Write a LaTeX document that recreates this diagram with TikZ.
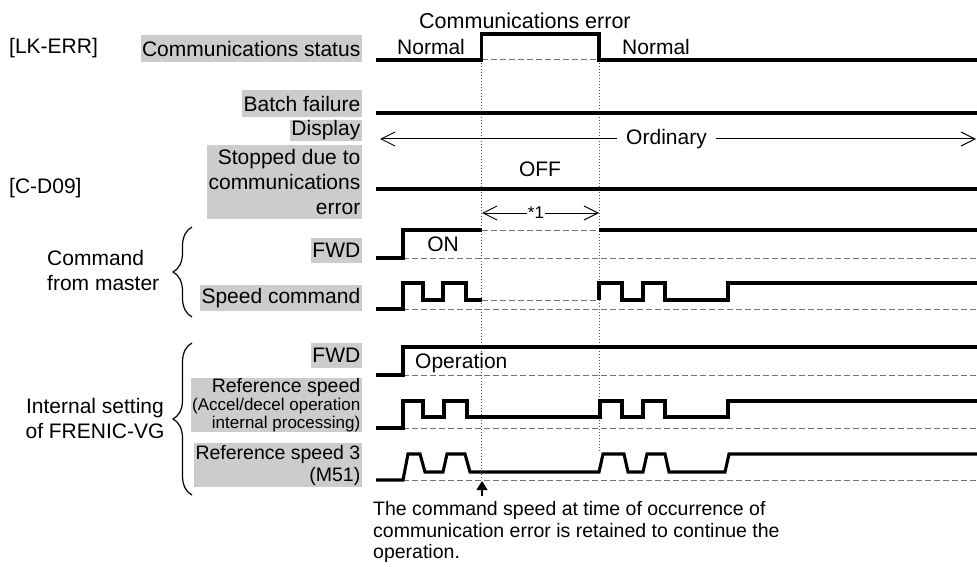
\documentclass[tikz,border=0pt]{standalone}
\usepackage{fontspec}
\setmainfont{Liberation Sans}
\usetikzlibrary{arrows.meta,decorations.pathreplacing}
\begin{document}
\begin{tikzpicture}[x=1pt,y=-1pt,
  sig/.style={line width=3.1pt, line join=miter},
  guide/.style={line width=1pt, black!55, dash pattern=on 6pt off 3pt},
  dotl/.style={line width=1pt, black!70, dash pattern=on 1pt off 2pt},
  lab/.style={fill=gray!40, anchor=east, inner xsep=1.5pt, inner ysep=0pt, align=right, font=\fontsize{21}{25}\selectfont},
  plain/.style={inner sep=0pt, font=\fontsize{21}{25}\selectfont},
  small/.style={inner sep=0pt, font=\fontsize{17}{21.5}\selectfont},
  notefont/.style={inner sep=0pt, font=\fontsize{19.5}{21.8}\selectfont},
  barb/.style={line width=1pt, {Straight Barb[length=14pt,width=14pt]}-{Straight Barb[length=14pt,width=14pt]}},
  brc/.style={line width=1.2pt, decorate, decoration={brace, amplitude=19pt}}]
\useasboundingbox (0,0) rectangle (977,567);

% left annotations
\node[plain, anchor=west] (lkerr) at (9,48) {[LK-ERR]};
\node[plain, anchor=west] (cd09) at (9,188) {[C-D09]};
\node[plain, anchor=west, align=left] (master) at (47,270) {Command\\from master};
\node[plain, align=center] (internal) at (95,418) {Internal setting\\of FRENIC-VG};
\draw[brc] (192,317) -- (192,227);
\draw[brc] (192,495) -- (192,343);

% signal labels
\node[lab, minimum height=27pt] (lcomm) at (362,48.5) {Communications status};
\node[lab, minimum height=27pt] (lbatch) at (362,103.5) {Batch failure};
\node[lab, minimum height=21pt] (ldisp) at (362,130.5) {Display};
\node[lab, minimum height=74pt] (lstop) at (362,182) {Stopped due to\\communications\\error};
\node[lab, minimum height=25pt] (lfwd1) at (362,250.5) {FWD};
\node[lab, minimum height=26pt] (lspd) at (362,298) {Speed command};
\node[lab, minimum height=25pt] (lfwd2) at (362,355.5) {FWD};
\node[lab, minimum height=54pt, font=\fontsize{17}{17.5}\selectfont] (lref) at (362,405)
  {{\fontsize{19.5}{20}\selectfont Reference speed}\\[1pt](Accel/decel operation\\internal processing)};
\node[lab, minimum height=44pt, font=\fontsize{19.5}{22}\selectfont] (lref3) at (362,465) {Reference speed 3\\(M51)};

% timing guides
\draw[dotl] (481.5,60) -- (481.5,480);
\draw[dotl] (599,60) -- (599,452);

% communications status
\node[plain, anchor=west] (title) at (419,21) {\fontsize{21.5}{25}\selectfont Communications error};
\node[plain, anchor=west] (norm1) at (397,47) {Normal};
\node[plain, anchor=west] (norm2) at (622,47) {Normal};
\draw[guide] (481.5,60) -- (599,60);
\draw[sig] (376,60) -- (481.5,60) -- (481.5,34) -- (599,34) -- (599,60) -- (977,60);

% batch failure
\draw[sig] (376,113) -- (977,113);

% display
\coordinate (dl) at (380,139);
\coordinate (dr) at (976,139);
\draw[barb] (dl) -- (dr);
\node[plain, fill=white, inner xsep=9pt, inner ysep=1pt] (ord) at (666.5,139) {Ordinary};

% stopped due to communications error
\node[plain] (off) at (540,169) {OFF};
\draw[sig] (376,189) -- (977,189);

% *1
\coordinate (s1l) at (482,213);
\coordinate (s1r) at (599,213);
\draw[barb] (s1l) -- (s1r);
\node[small, fill=white, inner sep=0.5pt] (star) at (536,213) {*1};

% FWD from master
\draw[guide] (403,258) -- (977,258);
\draw[guide] (481.5,230) -- (599,230);
\draw[sig] (376,258) -- (403,258) -- (403,230) -- (481.5,230);
\draw[sig] (599,230) -- (977,230);
\node[plain] (on) at (443,244) {ON};

% speed command
\draw[guide] (403,309) -- (977,309);
\draw[guide] (481.5,300) -- (599,300);
\draw[sig] (376,309) -- (403,309) -- (403,283) -- (423,283) -- (423,300) -- (443,300) -- (443,283) -- (466,283) -- (466,300) -- (481.5,300);
\draw[sig] (599,300) -- (599,283) -- (622,283) -- (622,300) -- (643,300) -- (643,283) -- (665,283) -- (665,300) -- (728,300) -- (728,283) -- (977,283);

% FWD internal
\draw[guide] (403,375) -- (977,375);
\draw[sig] (376,375) -- (403,375) -- (403,347) -- (977,347);
\node[plain, anchor=west] (oper) at (415,363) {Operation};

% reference speed
\draw[guide] (403,428) -- (977,428);
\draw[sig] (376,428) -- (403,428) -- (403,401) -- (423,401) -- (423,417) -- (444,417) -- (444,401) -- (467,401) -- (467,417) -- (600,417) -- (600,401) -- (622,401) -- (622,417) -- (643,417) -- (643,401) -- (665,401) -- (665,417) -- (728,417) -- (728,401) -- (977,401);

% reference speed 3
\draw[guide] (403,480) -- (977,480);
\draw[sig] (376,480) -- (403,480) -- (408,454) -- (420,454) -- (425,472) -- (443,472) -- (447,454) -- (465,454) -- (470,472) -- (599,472) -- (603,454) -- (624,454) -- (628,472) -- (643,472) -- (647,454) -- (665,454) -- (669,472) -- (725,472) -- (729,454) -- (977,454);

% note
\coordinate (ntip) at (482,481);
\coordinate (nbase) at (482,496);
\node[notefont, anchor=north west, align=left] (note) at (373,501) {The command speed at time of occurrence of\\communication error is retained to continue the\\operation.};
\draw[line width=1.2pt, -{Triangle[length=9pt,width=11pt]}] (nbase) -- (ntip);
\end{tikzpicture}
\end{document}
